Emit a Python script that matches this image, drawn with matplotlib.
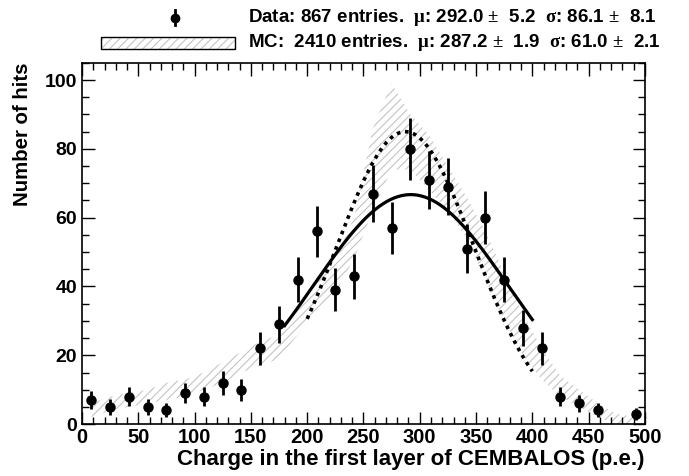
import matplotlib.pyplot as plt
import numpy as np
from matplotlib.lines import Line2D
from matplotlib.patches import Rectangle

plt.rcParams['font.family'] = ['Liberation Sans', 'DejaVu Sans']
plt.rcParams['font.weight'] = 'bold'
plt.rcParams['mathtext.fontset'] = 'custom'
plt.rcParams['mathtext.rm'] = 'Liberation Serif'
plt.rcParams['mathtext.it'] = 'Liberation Serif:italic'
plt.rcParams['mathtext.default'] = 'rm'
plt.rcParams['hatch.linewidth'] = 0.8

# data histogram (30 bins over 0-500), bin centres
bin_centres = (np.arange(30) + 0.5) * 500 / 30
counts = [7, 5, 8, 5, 4, 9, 8, 12, 10, 22, 29, 42, 56, 39, 43, 67, 57, 80, 71, 69,
          51, 60, 42, 28, 22, 8, 6, 4, 0, 3]

# MC band (scaled to data), lower / upper edges at bin centres
mc_low = [2, 4, 5, 6, 7, 8, 10, 12, 15, 17, 19, 26, 32, 38, 48, 62, 74, 74, 68, 62,
          54, 42, 30, 20, 13, 8, 5, 2, 0, 0]
mc_high = [6, 8, 9, 10, 12, 13, 15, 18, 21, 24, 26, 34, 41, 48, 60, 86, 99, 90, 84, 75,
           66, 56, 44, 32, 22, 14, 10, 6, 3, 2]

# gaussian fits
data_fit = dict(amp=66.7, mu=292.0, sigma=86.1, lo=180, hi=400)
mc_fit = dict(amp=85.0, mu=287.2, sigma=61.0, lo=200, hi=400)

hatch_col = '#c4c4c4'

fig = plt.figure(figsize=(6.89, 4.76), dpi=100)
ax = fig.add_axes([0.119, 0.109, 0.817, 0.759])

ax.fill_between(bin_centres, mc_low, mc_high, facecolor='none', edgecolor=hatch_col,
                hatch='////', linewidth=0)

c = np.array(counts, dtype=float)
keep = c > 0
ax.errorbar(bin_centres[keep], c[keep], yerr=np.sqrt(c[keep]), fmt='o', color='black',
            markersize=6.5, elinewidth=2, capsize=0)

x = np.linspace(data_fit['lo'], data_fit['hi'], 200)
ax.plot(x, data_fit['amp'] * np.exp(-(x - data_fit['mu']) ** 2 / (2 * data_fit['sigma'] ** 2)),
        color='black', lw=2.3)
x = np.linspace(mc_fit['lo'], mc_fit['hi'], 200)
ax.plot(x, mc_fit['amp'] * np.exp(-(x - mc_fit['mu']) ** 2 / (2 * mc_fit['sigma'] ** 2)),
        color='black', lw=2.6, linestyle=(0, (1, 1.3)))

ax.set_xlim(0, 500)
ax.set_ylim(0, 105)
ax.set_xticks(np.arange(0, 501, 50))
ax.set_xticks(np.arange(0, 501, 10), minor=True)
ax.set_yticks(np.arange(0, 101, 20))
ax.set_yticks(np.arange(0, 106, 5), minor=True)
ax.tick_params(which='both', direction='in', top=True, right=True, labelsize=14, width=1)
ax.tick_params(axis='x', labelsize=14.5, pad=3)
ax.tick_params(which='major', length=9)
ax.tick_params(which='minor', length=5)
for s in ax.spines.values():
    s.set_linewidth(1.2)

ax.set_xlabel('Charge in the first layer of CEMBALOS (p.e.)', fontsize=16, fontweight='bold',
              loc='right', labelpad=1)
ax.set_ylabel('Number of hits', fontsize=14.7, fontweight='bold', loc='top', labelpad=9)

# legend above the axes
fig.add_artist(Line2D([0.254, 0.254], [0.948, 0.978], color='black', lw=2, transform=fig.transFigure))
fig.add_artist(Line2D([0.254], [0.963], marker='o', markersize=6, color='black', transform=fig.transFigure))
fig.add_artist(Rectangle((0.146, 0.897), 0.195, 0.026, transform=fig.transFigure, facecolor='white',
                         edgecolor=hatch_col, lw=0, hatch='////'))
fig.add_artist(Rectangle((0.146, 0.897), 0.195, 0.026, transform=fig.transFigure, facecolor='none',
                         edgecolor='black', lw=1))
fig.text(0.36, 0.963, r'Data: 867 entries.  $\mu$: 292.0 $\pm$  5.2  $\sigma$: 86.1 $\pm$  8.1',
         fontsize=13.5, va='center')
fig.text(0.36, 0.91, r'MC:  2410 entries.  $\mu$: 287.2 $\pm$  1.9  $\sigma$: 61.0 $\pm$  2.1',
         fontsize=13.5, va='center')

fig.savefig('out.png', dpi=100)
